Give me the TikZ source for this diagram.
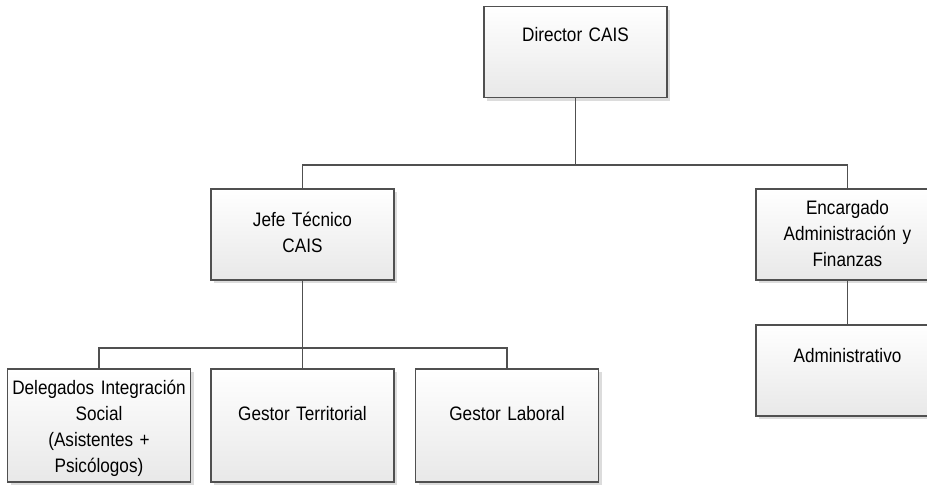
\documentclass[tikz,border=0pt]{standalone}
\usepackage{fontspec}
\setmainfont{Liberation Sans}[FakeStretch=0.88]
\usepackage{tikz}
\usetikzlibrary{positioning}
\usetikzlibrary{shadows}
\definecolor{orgline}{HTML}{505050}

\begin{document}
\begin{tikzpicture}[x=1pt, y=-1pt,
	orgbox/.style={rectangle, draw=orgline, line width=1.3pt, top color=white, bottom color=black!9,
		minimum width=183pt, minimum height=91pt, inner sep=0pt,
		drop shadow={shadow xshift=3pt, shadow yshift=-3pt, fill=black!30, opacity=.45}},
	tallbox/.style={orgbox, minimum height=113pt},
	orgtext/.style={text width=190pt, align=center, inner sep=0pt, anchor=base, font=\fontsize{19.5}{26}\selectfont},
	orglink/.style={draw=orgline, line width=1.3pt}]
	\useasboundingbox (0,0) rectangle (927,485);
	\clip (0,0) rectangle (927,485);
	\node (director) [orgbox] at (575.5,52) {};
	\node (jefe) [orgbox] at (302.5,234.5) {};
	\node (encargado) [orgbox] at (847.5,234.5) {};
	\node (administrativo) [orgbox] at (847.5,370.5) {};
	\node (delegados) [tallbox] at (99,425.5) {};
	\node (territorial) [tallbox] at (302.5,425.5) {};
	\node (laboral) [tallbox] at (507,425.5) {};
	\node (directortext) [orgtext] at ([yshift=-36pt]director.north) {Director CAIS};
	\node (jefetext) [orgtext] at ([yshift=-38pt]jefe.north) {Jefe Técnico\\CAIS};
	\node (encargadotext) [orgtext] at ([yshift=-26pt]encargado.north) {Encargado\\Administración y\\Finanzas};
	\node (administrativotext) [orgtext] at ([yshift=-38pt]administrativo.north) {Administrativo};
	\node (delegadostext) [orgtext] at ([yshift=-26pt]delegados.north) {Delegados Integración\\Social\\(Asistentes +\\Psicólogos)};
	\node (territorialtext) [orgtext] at ([yshift=-52pt]territorial.north) {Gestor Territorial};
	\node (laboraltext) [orgtext] at ([yshift=-52pt]laboral.north) {Gestor Laboral};
	\coordinate (topbus) at (0,165);
	\coordinate (lowbus) at (0,348);
	\draw [orglink] (director.south) |- (topbus -| jefe.north) -- (jefe.north);
	\draw [orglink] (director.south) |- (topbus -| encargado.north) -- (encargado.north);
	\draw [orglink] (encargado.south) -- (administrativo.north);
	\draw [orglink] (jefe.south) |- (lowbus -| delegados.north) -- (delegados.north);
	\draw [orglink] (jefe.south) -- (territorial.north);
	\draw [orglink] (jefe.south) |- (lowbus -| laboral.north) -- (laboral.north);
\end{tikzpicture}
\end{document}
